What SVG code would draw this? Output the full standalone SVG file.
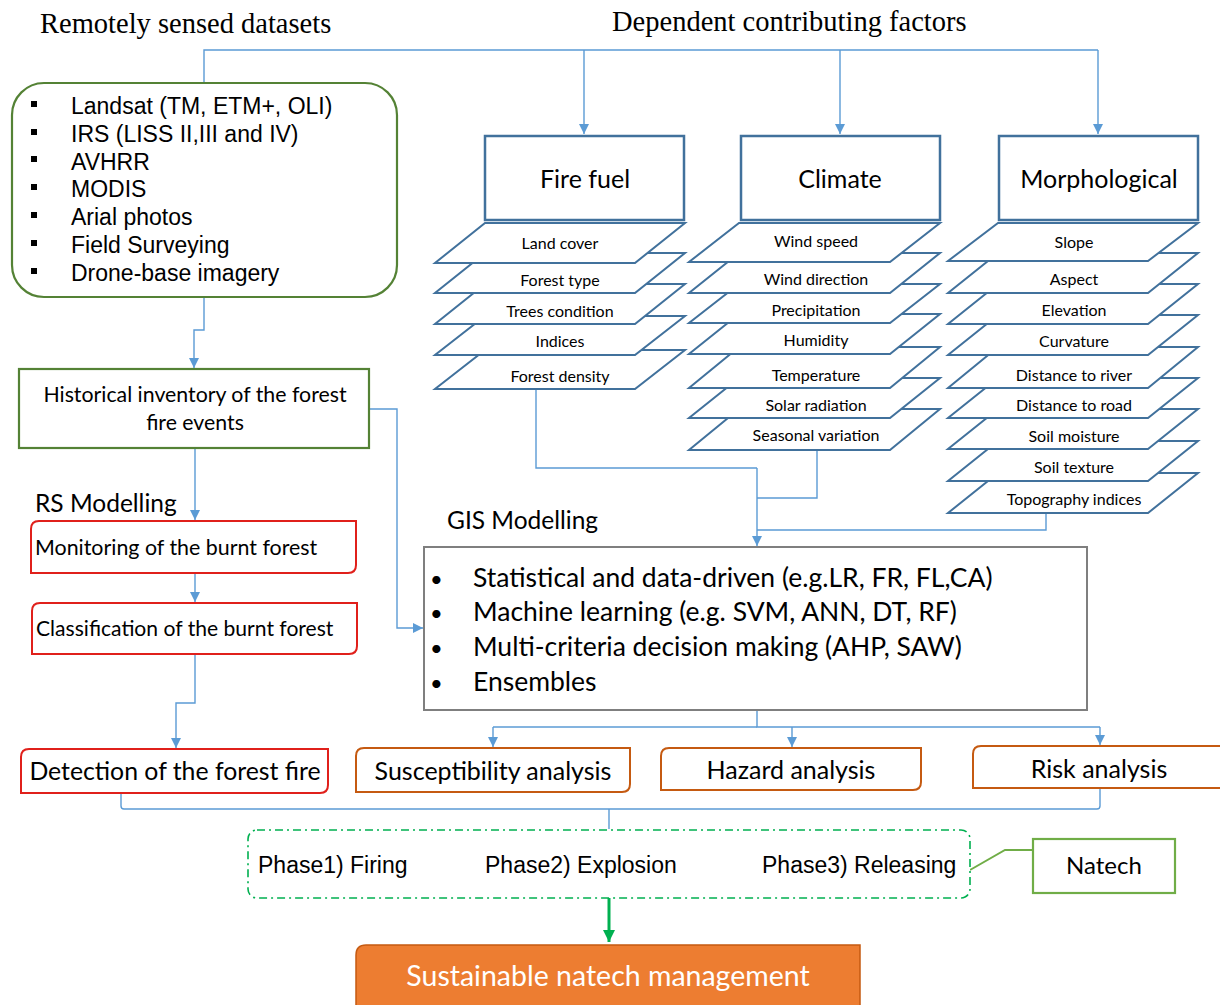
<svg xmlns="http://www.w3.org/2000/svg" width="1220" height="1005" viewBox="0 0 1220 1005">
<defs>
<marker id="ab" viewBox="0 0 10 10" refX="10" refY="5" markerWidth="10" markerHeight="10" markerUnits="userSpaceOnUse" orient="auto"><path d="M0,0 L10,5 L0,10 z" fill="#5b9bd5"/></marker>
<marker id="ag" viewBox="0 0 10 10" refX="10" refY="5" markerWidth="12" markerHeight="12" markerUnits="userSpaceOnUse" orient="auto"><path d="M0,0 L10,5 L0,10 z" fill="#00b050"/></marker>
<style>
.ser{font-family:"Liberation Serif",serif;font-size:28.5px;fill:#000}
.ar{font-family:"Liberation Sans",Arial,sans-serif;fill:#000}
.ca{font-family:Lato,"Open Sans",sans-serif;fill:#000}
.lay{fill:#fff;stroke:#41719c;stroke-width:2}
.lt{font-family:Lato,sans-serif;font-size:16px;text-anchor:middle;fill:#000}
.hd{fill:#fff;stroke:#41719c;stroke-width:2.5}
.ht{font-family:Lato,sans-serif;font-size:25px;text-anchor:middle;fill:#000}
.con{fill:none;stroke:#5b9bd5;stroke-width:1.4}
.red{fill:#fff;stroke:#e0201b;stroke-width:2}
.org{fill:#fff;stroke:#c55a11;stroke-width:2}
.grn{fill:#fff;stroke:#548235;stroke-width:2.2}
</style>
</defs>

<g id="titles">
<text class="ser" x="40" y="33">Remotely sensed datasets</text>
<text class="ser" x="612" y="31">Dependent contributing factors</text>
<text class="ca" x="35" y="512" font-size="24.5">RS Modelling</text>
<text class="ca" x="447" y="529" font-size="24.5">GIS Modelling</text>
</g>

<g id="connectors">
<path class="con" d="M204,83 V50 H1098"/>
<path class="con" d="M584,50 V134" marker-end="url(#ab)"/>
<path class="con" d="M840,50 V134" marker-end="url(#ab)"/>
<path class="con" d="M1098,50 V134" marker-end="url(#ab)"/>
<path class="con" d="M204,297 V330 H194 V368" marker-end="url(#ab)"/>
<path class="con" d="M369,409 H397 V628 H423" marker-end="url(#ab)"/>
<path class="con" d="M195,448 V520" marker-end="url(#ab)"/>
<path class="con" d="M195,573 V602" marker-end="url(#ab)"/>
<path class="con" d="M195,654 V703 H176 V748" marker-end="url(#ab)"/>
<path class="con" d="M536,389 V468 H757"/>
<path class="con" d="M817,450 V498 H757"/>
<path class="con" d="M1046,513 V530 H757"/>
<path class="con" d="M757,468 V546" marker-end="url(#ab)"/>
<path class="con" d="M757,710 V727 H1100"/>
<path class="con" d="M493,727 H757"/>
<path class="con" d="M493,727 V747" marker-end="url(#ab)"/>
<path class="con" d="M792,727 V747" marker-end="url(#ab)"/>
<path class="con" d="M1100,727 V745" marker-end="url(#ab)"/>
<path class="con" d="M121,793 V806 Q121,809 124,809 H1097 Q1100,809 1100,806 V788"/>
<path class="con" d="M609,809 V829"/>
<path d="M970,870 L1005,850 H1033" fill="none" stroke="#70ad47" stroke-width="2"/>
<path d="M609,898 V942" fill="none" stroke="#00b050" stroke-width="3" marker-end="url(#ag)"/>
</g>

<g id="remote-datasets">
<rect x="12" y="83" width="385" height="214" rx="32" fill="#fff" stroke="#548235" stroke-width="2.2"/>
<g fill="#000">
<rect x="31" y="101" width="6" height="6"/>
<rect x="31" y="129" width="6" height="6"/>
<rect x="31" y="156" width="6" height="6"/>
<rect x="31" y="184" width="6" height="6"/>
<rect x="31" y="212" width="6" height="6"/>
<rect x="31" y="240" width="6" height="6"/>
<rect x="31" y="268" width="6" height="6"/>
</g>
<g class="ar" font-size="23">
<text x="71" y="114">Landsat (TM, ETM+, OLI)</text>
<text x="71" y="142">IRS (LISS II,III and IV)</text>
<text x="71" y="170">AVHRR</text>
<text x="71" y="197">MODIS</text>
<text x="71" y="225">Arial photos</text>
<text x="71" y="253">Field Surveying</text>
<text x="71" y="281">Drone-base imagery</text>
</g>
</g>

<g id="historical">
<rect x="19" y="369" width="350" height="79" class="grn"/>
<text class="ca" font-size="21.3" x="195" y="402" text-anchor="middle">Historical inventory of the forest</text>
<text class="ca" font-size="21.3" x="195" y="430" text-anchor="middle">fire events</text>
</g>

<g id="monitoring">
<path class="red" d="M39,521 H356 V565 Q356,573 348,573 H31 V529 Q31,521 39,521 Z"/>
<text class="ca" font-size="21.4" x="35" y="555">Monitoring of the burnt forest</text>
</g>
<g id="classification">
<path class="red" d="M40,603 H357 V646 Q357,654 349,654 H32 V611 Q32,603 40,603 Z"/>
<text class="ca" font-size="21.1" x="36" y="636">Classification of the burnt forest</text>
</g>
<g id="detection">
<path class="red" d="M29,749 H328 V785 Q328,793 320,793 H21 V757 Q21,749 29,749 Z"/>
<text class="ca" font-size="24.8" x="175" y="780" text-anchor="middle">Detection of the forest fire</text>
</g>

<g id="fire-fuel">
<rect class="hd" x="485" y="136" width="199" height="84"/>
<text class="ht" x="585" y="188">Fire fuel</text>
<polygon class="lay" points="485,350 685,350 635,389 435,389"/>
<polygon class="lay" points="485,316 685,316 635,355 435,355"/>
<polygon class="lay" points="485,284 685,284 635,324 435,324"/>
<polygon class="lay" points="485,253 685,253 635,293 435,293"/>
<polygon class="lay" points="485,223 685,223 635,263 435,263"/>
<text class="lt" x="560" y="249">Land cover</text>
<text class="lt" x="560" y="286">Forest type</text>
<text class="lt" x="560" y="317">Trees condition</text>
<text class="lt" x="560" y="347">Indices</text>
<text class="lt" x="560" y="382">Forest density</text>
</g>

<g id="climate">
<rect class="hd" x="741" y="136" width="199" height="84"/>
<text class="ht" x="840" y="188">Climate</text>
<polygon class="lay" points="739,409 940,409 890,450 689,450"/>
<polygon class="lay" points="739,378 940,378 890,418 689,418"/>
<polygon class="lay" points="739,347 940,347 890,388 689,388"/>
<polygon class="lay" points="739,314 940,314 890,354 689,354"/>
<polygon class="lay" points="739,284 940,284 890,323 689,323"/>
<polygon class="lay" points="739,253 940,253 890,293 689,293"/>
<polygon class="lay" points="739,223 940,223 890,262 689,262"/>
<text class="lt" x="816" y="247">Wind speed</text>
<text class="lt" x="816" y="285">Wind direction</text>
<text class="lt" x="816" y="316">Precipitation</text>
<text class="lt" x="816" y="346">Humidity</text>
<text class="lt" x="816" y="381">Temperature</text>
<text class="lt" x="816" y="411">Solar radiation</text>
<text class="lt" x="816" y="441">Seasonal variation</text>
</g>

<g id="morphological">
<rect class="hd" x="999" y="136" width="199" height="84"/>
<text class="ht" x="1099" y="188">Morphological</text>
<polygon class="lay" points="998,473 1198,473 1148,513 948,513"/>
<polygon class="lay" points="998,441 1198,441 1148,481 948,481"/>
<polygon class="lay" points="998,409 1198,409 1148,449 948,449"/>
<polygon class="lay" points="998,378 1198,378 1148,418 948,418"/>
<polygon class="lay" points="998,347 1198,347 1148,388 948,388"/>
<polygon class="lay" points="998,315 1198,315 1148,355 948,355"/>
<polygon class="lay" points="998,284 1198,284 1148,324 948,324"/>
<polygon class="lay" points="998,253 1198,253 1148,293 948,293"/>
<polygon class="lay" points="998,223 1198,223 1148,261 948,261"/>
<text class="lt" x="1074" y="248">Slope</text>
<text class="lt" x="1074" y="285">Aspect</text>
<text class="lt" x="1074" y="316">Elevation</text>
<text class="lt" x="1074" y="347">Curvature</text>
<text class="lt" x="1074" y="381">Distance to river</text>
<text class="lt" x="1074" y="411">Distance to road</text>
<text class="lt" x="1074" y="442">Soil moisture</text>
<text class="lt" x="1074" y="473">Soil texture</text>
<text class="lt" x="1074" y="505">Topography indices</text>
</g>

<g id="gis-modelling">
<rect x="424" y="547" width="663" height="163" fill="#fff" stroke="#7f7f7f" stroke-width="2"/>
<g class="ca" font-size="26.5">
<text x="430" y="587" font-size="22">•</text>
<text x="430" y="621" font-size="22">•</text>
<text x="430" y="656" font-size="22">•</text>
<text x="430" y="691" font-size="22">•</text>
<text x="473" y="587">Statistical and data-driven (e.g.LR, FR, FL,CA)</text>
<text x="473" y="621">Machine learning (e.g. SVM, ANN, DT, RF)</text>
<text x="473" y="656">Multi-criteria decision making (AHP, SAW)</text>
<text x="473" y="691">Ensembles</text>
</g>
</g>

<g id="susceptibility">
<path class="org" d="M364,748 H630 V784 Q630,792 622,792 H356 V756 Q356,748 364,748 Z"/>
<text class="ca" font-size="25" x="493" y="780" text-anchor="middle">Susceptibility analysis</text>
</g>
<g id="hazard">
<path class="org" d="M669,748 H921 V782 Q921,790 913,790 H661 V756 Q661,748 669,748 Z"/>
<text class="ca" font-size="25" x="791" y="779" text-anchor="middle">Hazard analysis</text>
</g>
<g id="risk">
<path class="org" d="M981,746 H1222 V788 H973 V754 Q973,746 981,746 Z"/>
<text class="ca" font-size="25" x="1099" y="778" text-anchor="middle">Risk analysis</text>
</g>

<g id="phases">
<rect x="248" y="830" width="722" height="68" rx="9" fill="#fff" stroke="#00b050" stroke-width="1.6" stroke-dasharray="8,4,2,4"/>
<g class="ar" font-size="23">
<text x="258" y="873">Phase1) Firing</text>
<text x="485" y="873">Phase2) Explosion</text>
<text x="762" y="873">Phase3) Releasing</text>
</g>
</g>

<g id="natech">
<rect x="1033" y="839" width="142" height="54" fill="#fff" stroke="#70ad47" stroke-width="2.2"/>
<text class="ca" font-size="24" x="1104" y="874" text-anchor="middle">Natech</text>
</g>

<g id="sustainable">
<path d="M366,945 H860 V1010 H356 V955 Q356,945 366,945 Z" fill="#ed7d31" stroke="#c55a11" stroke-width="1.5"/>
<text class="ca" font-size="28.5" x="608" y="986" text-anchor="middle" style="fill:#fff">Sustainable natech management</text>
</g>
</svg>
